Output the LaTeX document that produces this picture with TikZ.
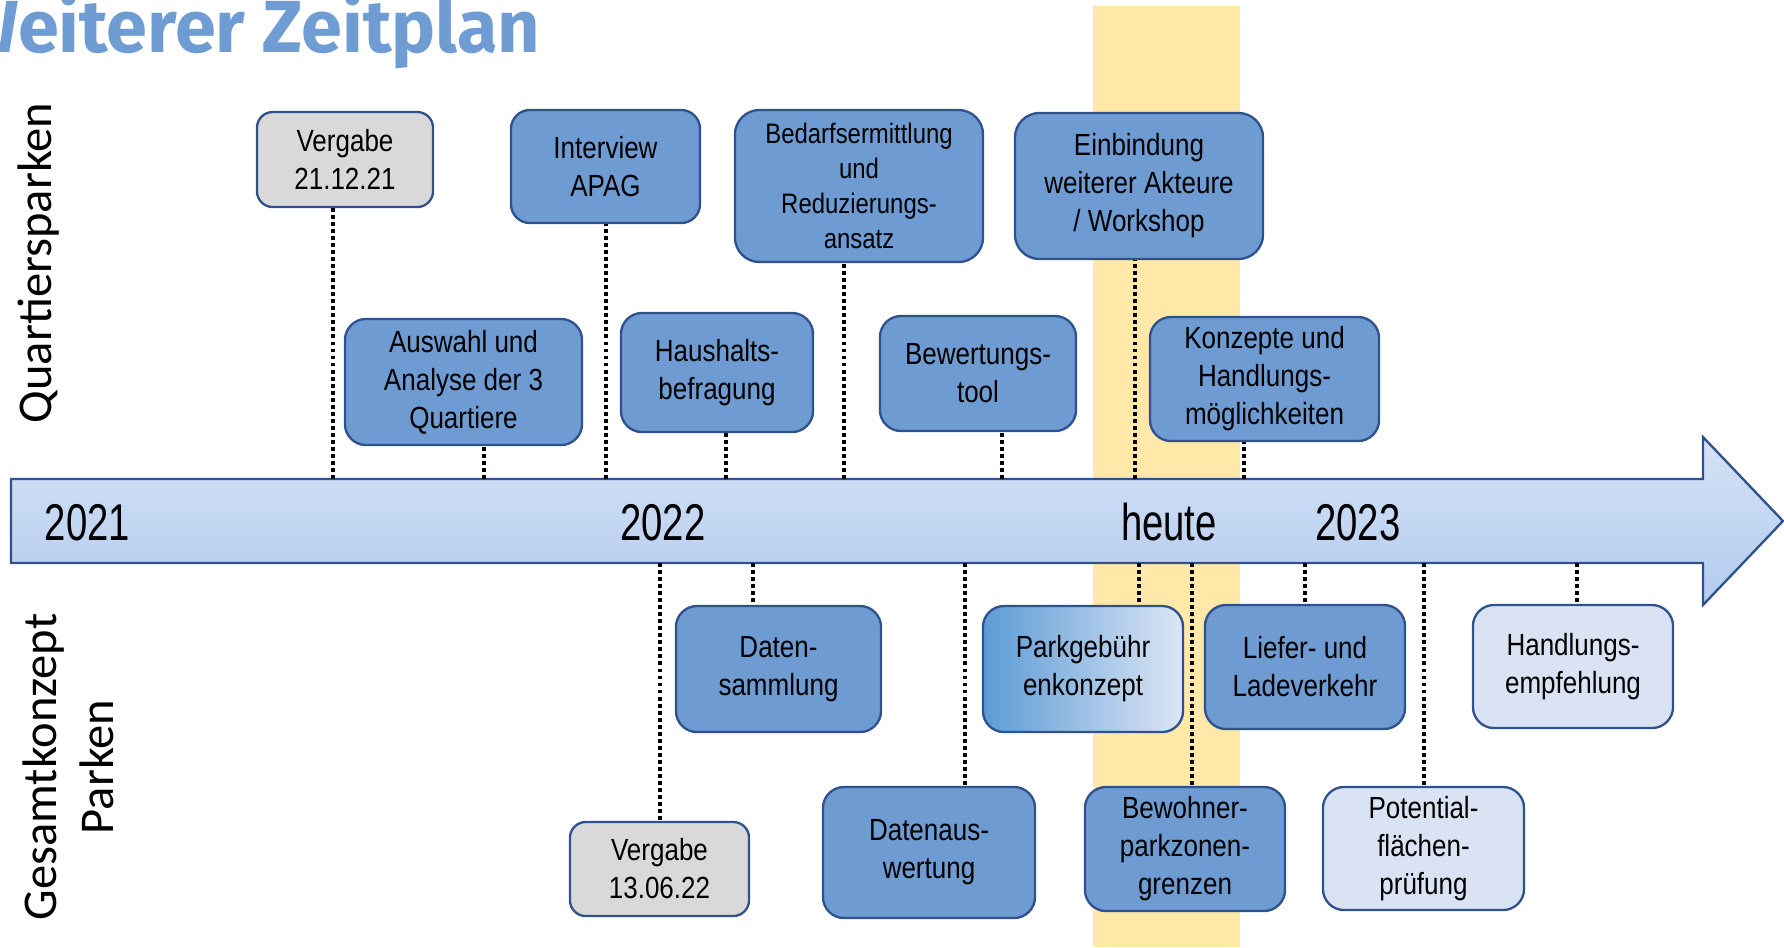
\documentclass[tikz,border=0pt]{standalone}
\usepackage{fontspec}
\setmainfont{Liberation Sans}[FakeStretch=0.85]
\newfontfamily\jahrfont{Liberation Sans}[FakeStretch=0.74]
\newfontfamily\seitenfont{Carlito}
\newfontfamily\titelfont{Fira Sans}
\usepackage{xcolor}
\usepackage{tikz}

\definecolor{rand}{HTML}{2F528F}
\definecolor{boxblau}{HTML}{6E9BD1}
\definecolor{boxgrau}{HTML}{D9D9D9}
\definecolor{boxhell}{HTML}{DAE3F3}
\definecolor{verlauflinks}{HTML}{5B9BD5}
\definecolor{verlaufrechts}{HTML}{DDE6F5}
\definecolor{heute}{HTML}{FFE8A8}
\definecolor{titel}{HTML}{709CD4}
\definecolor{pfeiloben}{HTML}{D4E2F6}
\definecolor{pfeilunten}{HTML}{B3CBEF}

\begin{document}
\begin{tikzpicture}[x=0.01cm,y=-0.01cm,
    box/.style={draw=rand,line width=0.66pt,rounded corners=6pt,align=center,
        inner sep=0pt,font=\fontsize{8.7}{10.8}\selectfont},
    blau/.style={box,fill=boxblau},
    grau/.style={box,fill=boxgrau,rounded corners=4.5pt},
    hell/.style={box,fill=boxhell},
    jahr/.style={anchor=base,inner sep=0pt,font=\jahrfont\fontsize{14.7}{17}\selectfont},
    seite/.style={rotate=90,align=center,inner sep=0pt,font=\seitenfont\fontsize{13.8}{16.2}\selectfont},
    tick/.style={line width=1.1pt,dash pattern=on 1.1pt off 0.9pt}]
    \useasboundingbox (0,0) rectangle (1784,947);

    % heute-Streifen und Titel
    \fill[heute] (1093,6) rectangle (1240,947);
    \node[anchor=base east,inner sep=0pt,text=titel,font=\titelfont\bfseries\fontsize{21}{25}\selectfont] (titel) at (541,52) {Weiterer Zeitplan};

    % Zeitpfeil
    \draw[rand,line width=0.66pt,top color=pfeiloben,bottom color=pfeilunten]
        (11,479) -- (1703,479) -- (1703,437) -- (1783,521) -- (1703,605) -- (1703,563) -- (11,563) -- cycle;
    \node[jahr] (j2021) at (87.5,540) {2021};
    \node[jahr] (j2022) at (663,540) {2022};
    \node[jahr] (heute) at (1169,540) {heute};
    \node[jahr] (j2023) at (1358,540) {2023};

    \node[seite] (quartier) at (39,263) {Quartiersparken};
    \node[seite] (gesamt) at (68,767) {Gesamtkonzept\\Parken};

    % Quartiersparken
    \node[grau,minimum width=1.76cm,minimum height=0.95cm] (vergabeA) at (345,159.5) {Vergabe\\21.12.21};
    \node[blau,minimum width=1.89cm,minimum height=1.13cm,rounded corners=5.4pt] (interview) at (605.5,166.5) {Interview\\APAG};
    \node[blau,minimum width=2.48cm,minimum height=1.52cm,rounded corners=7pt,font=\fontsize{8}{9.9}\selectfont] (bedarf) at (859,186) {Bedarfsermittlung\\und\\Reduzierungs-\\ansatz};
    \node[blau,minimum width=2.48cm,minimum height=1.46cm,rounded corners=7pt] (einbindung) at (1139,186) {Einbindung\\weiterer Akteure\\/ Workshop};
    \node[blau,minimum width=2.37cm,minimum height=1.26cm] (auswahl) at (463.5,382) {Auswahl und\\Analyse der 3\\Quartiere};
    \node[blau,minimum width=1.92cm,minimum height=1.19cm] (haushalt) at (717,372.5) {Haushalts-\\befragung};
    \node[blau,minimum width=1.96cm,minimum height=1.15cm] (bewertung) at (978,373.5) {Bewertungs-\\tool};
    \node[blau,minimum width=2.29cm,minimum height=1.24cm] (konzepte) at (1264.5,379) {Konzepte und\\Handlungs-\\möglichkeiten};

    % Gesamtkonzept Parken
    \node[blau,minimum width=2.05cm,minimum height=1.26cm] (daten) at (778.5,669) {Daten-\\sammlung};
    \node[grau,minimum width=1.79cm,minimum height=0.94cm] (vergabeB) at (659.5,869) {Vergabe\\13.06.22};
    \node[blau,minimum width=2.12cm,minimum height=1.31cm] (auswertung) at (929,852.5) {Datenaus-\\wertung};
    \node[box,left color=verlauflinks,right color=verlaufrechts,minimum width=2cm,minimum height=1.26cm] (parkgeb) at (1083,669) {Parkgebühr\\enkonzept};
    \node[blau,minimum width=2cm,minimum height=1.24cm] (liefer) at (1305,667) {Liefer- und\\Ladeverkehr};
    \node[blau,minimum width=2cm,minimum height=1.24cm] (bewohner) at (1185,849) {Bewohner-\\parkzonen-\\grenzen};
    \node[hell,minimum width=2cm,minimum height=1.23cm] (handlung) at (1573,666.5) {Handlungs-\\empfehlung};
    \node[hell,minimum width=2.01cm,minimum height=1.23cm] (potential) at (1423.5,848.5) {Potential-\\flächen-\\prüfung};

    % Fusspunkte am Pfeil
    \coordinate (tVergabeA) at (333,479);
    \coordinate (tInterview) at (606,479);
    \coordinate (tBedarf) at (844,479);
    \coordinate (tEinbindung) at (1135,479);
    \coordinate (tAuswahl) at (484,479);
    \coordinate (tHaushalt) at (726,479);
    \coordinate (tBewertung) at (1002,479);
    \coordinate (tKonzepte) at (1244,479);
    \coordinate (tDaten) at (753,563);
    \coordinate (tVergabeB) at (660,563);
    \coordinate (tAuswertung) at (965,563);
    \coordinate (tParkgeb) at (1139,563);
    \coordinate (tLiefer) at (1305,563);
    \coordinate (tBewohner) at (1192,563);
    \coordinate (tHandlung) at (1577,563);
    \coordinate (tPotential) at (1424,563);

    \draw[tick] (tVergabeA) -- (tVergabeA |- vergabeA.south);
    \draw[tick] (tInterview) -- (tInterview |- interview.south);
    \draw[tick] (tBedarf) -- (tBedarf |- bedarf.south);
    \draw[tick] (tEinbindung) -- (tEinbindung |- einbindung.south);
    \draw[tick] (tAuswahl) -- (tAuswahl |- auswahl.south);
    \draw[tick] (tHaushalt) -- (tHaushalt |- haushalt.south);
    \draw[tick] (tBewertung) -- (tBewertung |- bewertung.south);
    \draw[tick] (tKonzepte) -- (tKonzepte |- konzepte.south);
    \draw[tick] (tDaten) -- (tDaten |- daten.north);
    \draw[tick] (tVergabeB) -- (tVergabeB |- vergabeB.north);
    \draw[tick] (tAuswertung) -- (tAuswertung |- auswertung.north);
    \draw[tick] (tParkgeb) -- (tParkgeb |- parkgeb.north);
    \draw[tick] (tLiefer) -- (tLiefer |- liefer.north);
    \draw[tick] (tBewohner) -- (tBewohner |- bewohner.north);
    \draw[tick] (tHandlung) -- (tHandlung |- handlung.north);
    \draw[tick] (tPotential) -- (tPotential |- potential.north);
\end{tikzpicture}
\end{document}
